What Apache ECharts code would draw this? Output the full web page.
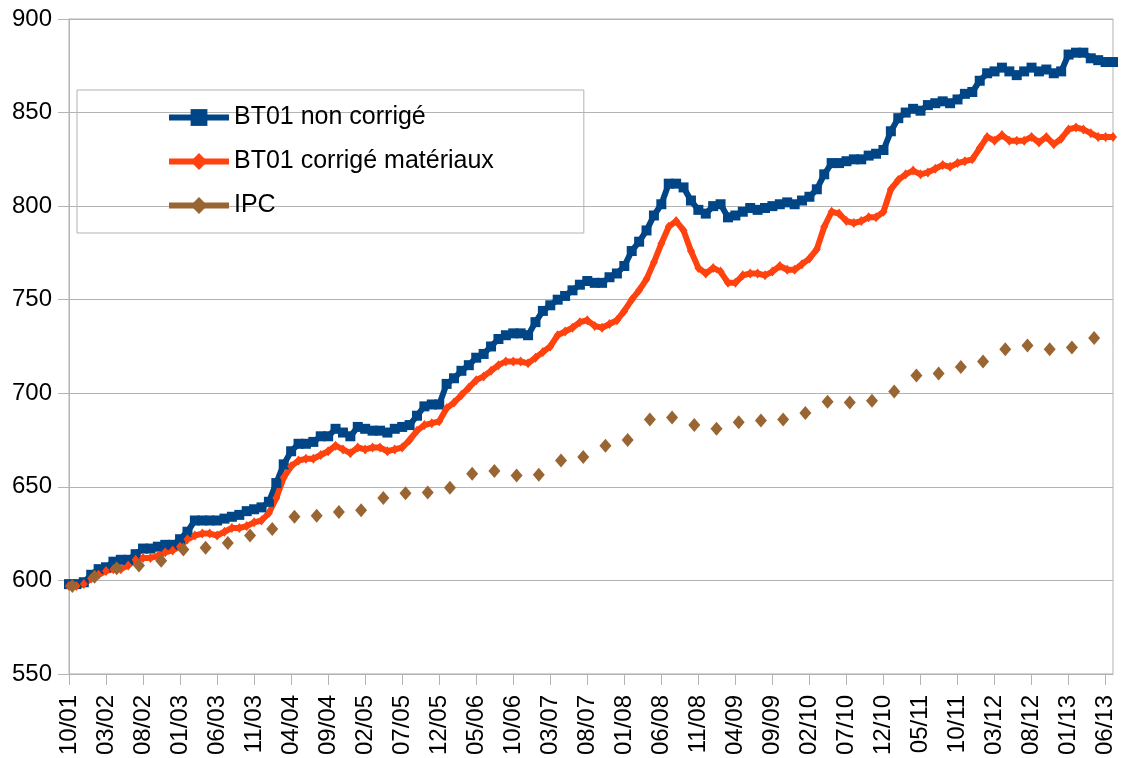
<!DOCTYPE html>
<html>
<head>
<meta charset="utf-8">
<script src="https://cdn.jsdelivr.net/npm/echarts@6/dist/echarts.min.js"></script>
<style>
html, body { margin: 0; padding: 0; background: #fff; }
#chart { width: 1121px; height: 758px; }
</style>
</head>
<body>
<div id="chart"></div>
<script>
// one label every 5 months, from 10/01 to 06/13
var tickLabels = ['10/01', '03/02', '08/02', '01/03', '06/03', '11/03', '04/04', '09/04', '02/05', '07/05',
    '12/05', '05/06', '10/06', '03/07', '08/07', '01/08', '06/08', '11/08', '04/09', '09/09',
    '02/10', '07/10', '12/10', '05/11', '10/11', '03/12', '08/12', '01/13', '06/13'];
var tickStep = 5;

// monthly values, 10/2001 -> 07/2013
var bt01NonCorrige = [598, 598, 599, 603, 606, 607, 610, 611, 611, 614,
    617, 617, 618, 619, 619, 622, 626, 632, 632, 632,
    632, 633, 634, 635, 637, 638, 639, 642, 652, 662,
    669, 673, 673, 674, 677, 677, 681, 679, 677, 682,
    681, 680, 680, 679, 681, 682, 683, 688, 693, 694,
    694, 705, 708, 712, 715, 719, 721, 725, 729, 731,
    732, 732, 731, 738, 744, 747, 750, 752, 755, 758,
    760, 759, 759, 762, 764, 768, 776, 781, 787, 795,
    801, 812, 812, 810, 803, 798, 796, 800, 801, 794,
    795, 797, 799, 798, 799, 800, 801, 802, 801, 803,
    805, 809, 817, 823, 823, 824, 825, 825, 827, 828,
    830, 840, 847, 850, 852, 851, 854, 855, 856, 855,
    857, 860, 861, 867, 871, 872, 874, 872, 870, 872,
    874, 872, 873, 871, 872, 881, 882, 882, 879, 878,
    877, 877];

var bt01CorrigeMat = [597, 597, 598, 601, 603, 605, 606, 606, 608, 611,
    612, 612, 613, 615, 616, 618, 622, 624, 625, 625,
    624, 626, 628, 628, 629, 631, 632, 636, 644, 655,
    661, 664, 665, 665, 667, 669, 672, 670, 668, 671,
    670, 671, 671, 669, 670, 671, 675, 680, 683, 684,
    685, 692, 695, 699, 703, 707, 709, 712, 715, 717,
    717, 717, 716, 719, 722, 725, 731, 733, 735, 738,
    739, 736, 735, 737, 739, 744, 750, 755, 761, 770,
    780, 789, 792, 787, 776, 767, 764, 767, 765, 759,
    759, 763, 764, 764, 763, 765, 768, 766, 766, 769,
    772, 777, 789, 797, 796, 792, 791, 792, 794, 794,
    797, 809, 814, 817, 819, 817, 818, 820, 822, 821,
    823, 824, 825, 831, 837, 835, 838, 835, 835, 835,
    837, 834, 837, 833, 836, 841, 842, 841, 839, 837,
    837, 837];

// IPC, quarterly, mid-month
var ipc = [597, 602, 606.5, 608, 610.5, 616.5, 617.5, 620, 624, 627.5,
    634, 634.5, 636.5, 637.5, 644, 646.5, 647, 649.5, 657, 658.5,
    656, 656.5, 664, 666, 672, 675, 686, 687, 683, 681,
    684.5, 685.5, 686, 689.5, 695.5, 695, 696, 701, 709.5, 710.5,
    714, 717, 723.5, 725.5, 723.5, 724.5, 729.5];
var ipcStep = 3;
var ipcShift = 0.45;

var gridColor = '#b3b3b3';

function monthly(arr) {
    return arr.map(function (v, i) { return [i, v]; });
}
var tickPos = tickLabels.map(function (l, i) { return i * tickStep; });

var chart = echarts.init(document.getElementById('chart'));
var option = {
    animation: false,
    textStyle: { fontFamily: 'Liberation Sans, Arial, sans-serif' },
    grid: {
        left: 69,
        top: 19,
        right: 8,
        bottom: 81,
        show: true,
        borderColor: gridColor,
        borderWidth: 1
    },
    legend: {
        orient: 'vertical',
        left: 77,
        top: 90,
        padding: [15, 90, 15, 89],
        borderColor: gridColor,
        borderWidth: 1,
        itemWidth: 60,
        itemHeight: 21,
        itemGap: 19,
        textStyle: { fontSize: 25, color: '#000' },
        lineStyle: { width: 6 },
        data: [
            { name: 'BT01 non corrigé' },
            { name: 'BT01 corrigé matériaux' },
            { name: 'IPC', lineStyle: { opacity: 1, width: 6, color: '#996633' } }
        ]
    },
    xAxis: {
        type: 'value',
        min: 0,
        max: bt01NonCorrige.length - 1,
        axisLine: { show: true, lineStyle: { color: gridColor } },
        axisTick: { show: true, length: 11, customValues: tickPos, lineStyle: { color: gridColor } },
        axisLabel: {
            customValues: tickPos,
            rotate: 90,
            margin: 21,
            fontSize: 24,
            color: '#000',
            formatter: function (v) { return tickLabels[Math.round(v / tickStep)]; }
        },
        splitLine: { show: false }
    },
    yAxis: {
        type: 'value',
        min: 550,
        max: 900,
        interval: 50,
        axisLine: { show: true, lineStyle: { color: gridColor } },
        axisTick: { show: true, length: 11, lineStyle: { color: gridColor } },
        axisLabel: { fontSize: 24, color: '#000', margin: 17 },
        splitLine: { show: true, lineStyle: { color: gridColor, width: 1 } }
    },
    series: [
        {
            name: 'BT01 non corrigé',
            type: 'line',
            data: monthly(bt01NonCorrige),
            symbol: 'rect',
            symbolSize: 10,
            showAllSymbol: true,
            lineStyle: { width: 6, color: '#004586' },
            itemStyle: { color: '#004586' }
        },
        {
            name: 'BT01 corrigé matériaux',
            type: 'line',
            data: monthly(bt01CorrigeMat),
            symbol: 'diamond',
            symbolSize: [8, 10],
            showAllSymbol: true,
            lineStyle: { width: 6, color: '#ff420e' },
            itemStyle: { color: '#ff420e' }
        },
        {
            name: 'IPC',
            type: 'line',
            data: ipc.map(function (v, k) { return [k * ipcStep + ipcShift, v]; }),
            symbol: 'diamond',
            symbolSize: [12, 14],
            showAllSymbol: true,
            lineStyle: { width: 6, opacity: 0 },
            itemStyle: { color: '#996633' }
        }
    ]
};
chart.setOption(option);
</script>
</body>
</html>
